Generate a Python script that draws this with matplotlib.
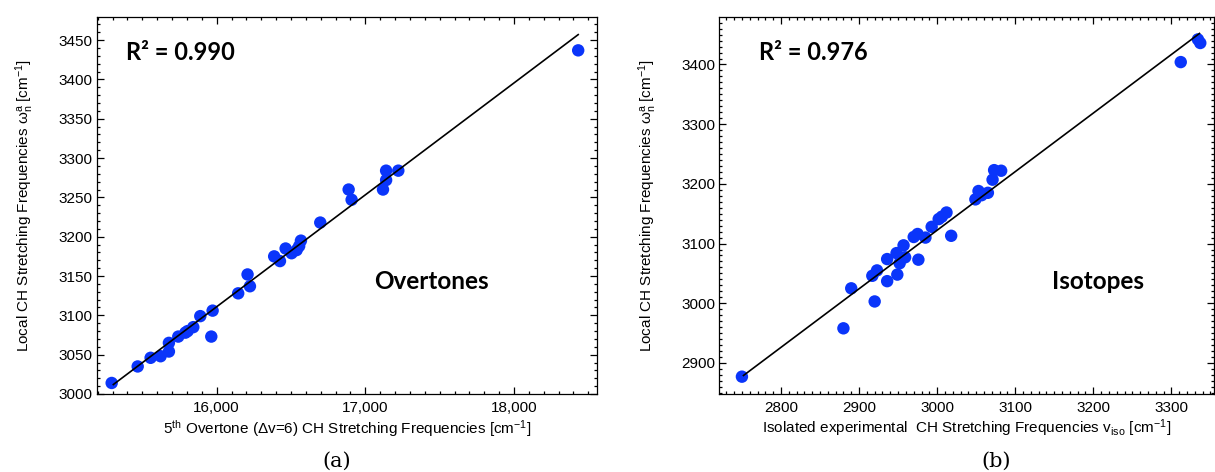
import matplotlib
matplotlib.use('Agg')
import matplotlib.pyplot as plt
from matplotlib.ticker import MultipleLocator, StrMethodFormatter

# panel (a): 5th overtone vs local CH stretching frequency
ov_x = [15294, 15469, 15556, 15623, 15679, 15679, 15742, 15790, 15805, 15843,
        15890, 15973, 15964, 16145, 16208, 16224, 16387, 16426, 16464, 16504,
        16538, 16555, 16567, 16697, 16888, 16908, 17119, 17140, 17140, 17222,
        18432]
ov_y = [3014, 3035, 3046, 3048, 3054, 3065, 3073, 3078, 3080, 3085,
        3099, 3106, 3073, 3128, 3152, 3137, 3175, 3169, 3185, 3179,
        3183, 3188, 3195, 3218, 3260, 3247, 3260, 3272, 3284, 3284,
        3437]
ov_fit_x = [15305, 18432]
ov_fit_y = [3012, 3457]
ov_r2 = '0.990'

# panel (b): isolated experimental vs local CH stretching frequency
iso_x = [2750, 2880, 2890, 2920, 2917, 2923, 2936, 2936, 2949, 2948,
         2952, 2957, 2959, 2970, 2975, 2976, 2985, 2993, 3002, 3006,
         3012, 3018, 3049, 3053, 3057, 3065, 3071, 3073, 3082, 3312,
         3334, 3337]
iso_y = [2877, 2958, 3025, 3003, 3046, 3055, 3037, 3074, 3048, 3084,
         3067, 3097, 3077, 3111, 3116, 3073, 3110, 3128, 3141, 3145,
         3152, 3113, 3174, 3188, 3181, 3185, 3207, 3223, 3222, 3404,
         3442, 3436]
iso_fit_x = [2752, 3336]
iso_fit_y = [2879, 3452]
iso_r2 = '0.976'

BLUE = '#0a35fa'
SANS = 'Liberation Sans'

plt.rcParams['font.family'] = [SANS, 'DejaVu Sans']
plt.rcParams['mathtext.fontset'] = 'custom'
plt.rcParams['mathtext.rm'] = SANS
plt.rcParams['mathtext.it'] = SANS + ':italic'
plt.rcParams['mathtext.bf'] = SANS + ':bold'

YLABEL = r'Local CH Stretching Frequencies $\mathrm{\omega}_\mathrm{n}^\mathrm{a}$ [cm$^{\mathrm{-1}}$]'


def style_axes(ax, xmajor, xminor, ymajor, yminor):
    ax.xaxis.set_major_locator(MultipleLocator(xmajor))
    ax.xaxis.set_minor_locator(MultipleLocator(xminor))
    ax.yaxis.set_major_locator(MultipleLocator(ymajor))
    ax.yaxis.set_minor_locator(MultipleLocator(yminor))
    ax.tick_params(which='both', direction='in', top=True, right=True,
                   labelsize=11, width=0.9)
    ax.tick_params(which='major', length=5)
    ax.tick_params(which='minor', length=2.4)
    ax.tick_params(axis='x', pad=5)
    ax.tick_params(axis='y', pad=3)
    for s in ax.spines.values():
        s.set_linewidth(0.9)


def panel(ax, x, y, fx, fy, r2, r2_x):
    ax.scatter(x, y, s=80, color=BLUE, edgecolors='none', zorder=2)
    ax.plot(fx, fy, color='black', lw=1.2, zorder=3)
    ax.text(r2_x, 0.887, 'R² = ' + r2, transform=ax.transAxes, fontsize=17,
            fontweight='bold', family='Lato', va='baseline', ha='left')
    ax.set_ylabel(YLABEL, fontsize=11)
    ax.yaxis.set_label_coords(-0.122, 0.5)


fig = plt.figure(figsize=(12.15, 4.72), dpi=100)

ax1 = fig.add_axes([0.0798, 0.1653, 0.4115, 0.798])
panel(ax1, ov_x, ov_y, ov_fit_x, ov_fit_y, ov_r2, 0.058)
ax1.set_xlim(15195, 18558)
ax1.set_ylim(3000, 3479)
style_axes(ax1, 1000, 100, 50, 10)
ax1.xaxis.set_major_formatter(StrMethodFormatter('{x:,.0f}'))
ax1.text(0.668, 0.280, 'Overtones', transform=ax1.transAxes, fontsize=17.5,
         fontweight='bold', family='Lato', va='baseline', ha='center')
ax1.set_xlabel(r'5$^{\mathrm{th}}$ Overtone ($\mathrm{\Delta}$v=6) CH Stretching Frequencies [cm$^{\mathrm{-1}}$]',
               fontsize=11, labelpad=2)

ax2 = fig.add_axes([0.592, 0.1653, 0.4068, 0.798])
panel(ax2, iso_x, iso_y, iso_fit_x, iso_fit_y, iso_r2, 0.081)
ax2.set_xlim(2721, 3354)
ax2.set_ylim(2848, 3479)
style_axes(ax2, 100, 10, 100, 10)
ax2.text(0.767, 0.280, 'Isotopes', transform=ax2.transAxes, fontsize=17.5,
         fontweight='bold', family='Lato', va='baseline', ha='center')
ax2.set_xlabel(r'Isolated experimental  CH Stretching Frequencies v$_{\mathrm{iso}}$ [cm$^{\mathrm{-1}}$]',
               fontsize=11, labelpad=2)

fig.text(0.2774, 0.022, '(a)', fontsize=15, family='DejaVu Serif',
         ha='center', va='center')
fig.text(0.8198, 0.022, '(b)', fontsize=15, family='DejaVu Serif',
         ha='center', va='center')

plt.savefig('out.png', dpi=100)
